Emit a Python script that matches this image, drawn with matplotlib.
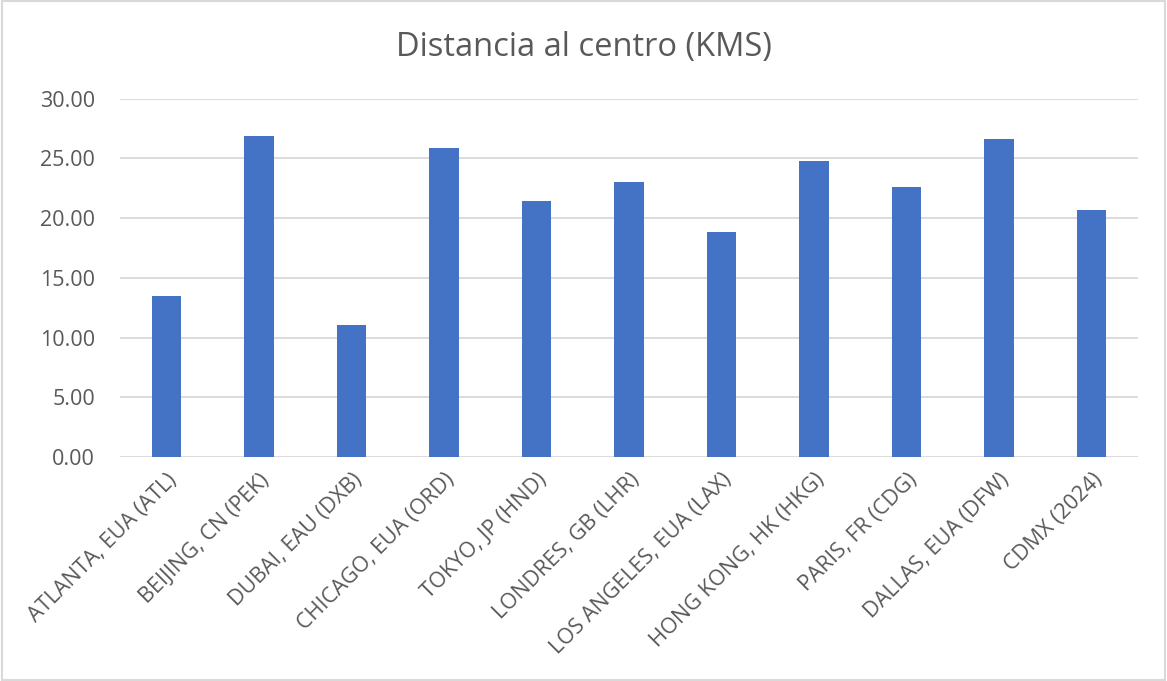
import matplotlib.pyplot as plt
from matplotlib.patches import Rectangle
import numpy as np

# data
ciudades = ['ATLANTA, EUA (ATL)', 'BEIJING, CN (PEK)', 'DUBAI, EAU (DXB)',
            'CHICAGO, EUA (ORD)', 'TOKYO, JP (HND)', 'LONDRES, GB (LHR)',
            'LOS ANGELES, EUA (LAX)', 'HONG KONG, HK (HKG)', 'PARIS, FR (CDG)',
            'DALLAS, EUA (DFW)', 'CDMX (2024)']
distancia = [13.52, 26.86, 11.02, 25.90, 21.46, 23.05, 18.87, 24.82, 22.58, 26.60, 20.68]
y_ticks = [0, 5, 10, 15, 20, 25, 30]

plt.rcParams['font.family'] = ['Open Sans', 'DejaVu Sans']
texto = '#595959'

fig = plt.figure(figsize=(11.67, 6.81), dpi=100)
ax = fig.add_axes([0.103, 0.329, 0.872, 0.526])

x = np.arange(len(ciudades))
ax.bar(x, distancia, width=0.315, color='#4472C4', zorder=3)

ax.set_xlim(-0.5, len(ciudades) - 0.5)
ax.set_ylim(0, 30)
ax.set_yticks(y_ticks)
ax.set_yticklabels(['%.2f' % v for v in y_ticks], fontsize=15.5, color=texto)
ax.set_xticks(x)
ax.set_xticklabels(ciudades, rotation=45, ha='right', rotation_mode='anchor',
                   fontsize=15.6, color=texto)
ax.tick_params(axis='both', length=0)
ax.tick_params(axis='y', pad=18)
ax.tick_params(axis='x', pad=9)

ax.grid(axis='y', color='#d9d9d9', linewidth=1.3, zorder=0)
for s in ax.spines.values():
    s.set_visible(False)

fig.suptitle('Distancia al centro (KMS)', y=0.955, fontsize=23.5, color=texto)

# border around the chart area
fig.patches.append(Rectangle((0.002, 0.002), 0.996, 0.996, transform=fig.transFigure,
                             fill=False, edgecolor='#d9d9d9', linewidth=1.5))

fig.savefig('out.png', dpi=100)
